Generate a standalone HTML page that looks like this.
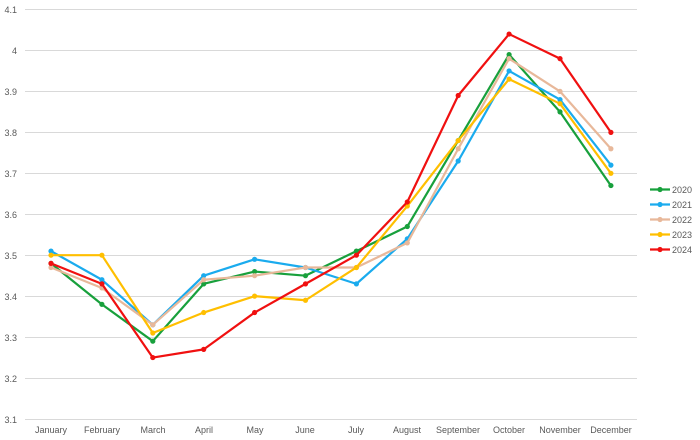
<!DOCTYPE html>
<html><head><meta charset="utf-8"><style>
body{margin:0;background:#fff;}
svg{display:block;font-family:"Liberation Sans",sans-serif;}
</style></head><body>
<svg id="c" width="700" height="440" xmlns="http://www.w3.org/2000/svg">
<g stroke="#d9d9d9" stroke-width="1">
<line x1="25" x2="637" y1="9.5" y2="9.5"/><line x1="25" x2="637" y1="50.5" y2="50.5"/>
<line x1="25" x2="637" y1="91.5" y2="91.5"/><line x1="25" x2="637" y1="132.5" y2="132.5"/>
<line x1="25" x2="637" y1="173.5" y2="173.5"/><line x1="25" x2="637" y1="214.5" y2="214.5"/>
<line x1="25" x2="637" y1="255.5" y2="255.5"/><line x1="25" x2="637" y1="296.5" y2="296.5"/>
<line x1="25" x2="637" y1="337.5" y2="337.5"/><line x1="25" x2="637" y1="378.5" y2="378.5"/>
<line x1="25" x2="637" y1="419.5" y2="419.5"/>
</g>
<g font-size="9" fill="#595959" text-anchor="end">
<text x="17" y="13">4.1</text><text x="17" y="54">4</text><text x="17" y="95">3.9</text>
<text x="17" y="136">3.8</text><text x="17" y="177">3.7</text><text x="17" y="218">3.6</text>
<text x="17" y="259">3.5</text><text x="17" y="300">3.4</text><text x="17" y="341">3.3</text>
<text x="17" y="382">3.2</text><text x="17" y="423">3.1</text>
</g>
<g font-size="9" fill="#595959" text-anchor="middle">
<text x="51" y="433">January</text><text x="102" y="433">February</text><text x="153" y="433">March</text>
<text x="204" y="433">April</text><text x="255" y="433">May</text><text x="305" y="433">June</text>
<text x="356" y="433">July</text><text x="407" y="433">August</text><text x="458" y="433">September</text>
<text x="509" y="433">October</text><text x="560" y="433">November</text><text x="611" y="433">December</text>
</g>
<g font-size="9" fill="#595959">
<text x="672" y="193">2020</text><text x="672" y="208">2021</text><text x="672" y="223">2022</text>
<text x="672" y="238">2023</text><text x="672" y="253">2024</text>
</g>
<g id="series"></g>
</svg>
<script>
var data=[
["#18a03c",[3.48,3.38,3.29,3.43,3.46,3.45,3.51,3.57,3.78,3.99,3.85,3.67]],
["#1aabee",[3.51,3.44,3.33,3.45,3.49,3.47,3.43,3.54,3.73,3.95,3.88,3.72]],
["#e8b89a",[3.47,3.42,3.33,3.44,3.45,3.47,3.47,3.53,3.76,3.98,3.90,3.76]],
["#ffbf00",[3.50,3.50,3.31,3.36,3.40,3.39,3.47,3.62,3.78,3.93,3.87,3.70]],
["#f01010",[3.48,3.43,3.25,3.27,3.36,3.43,3.50,3.63,3.89,4.04,3.98,3.80]]];
var g=document.getElementById("series"),ns="http://www.w3.org/2000/svg",s="";
data.forEach(function(d,k){
 var pts=d[1].map(function(v,i){return [51+i*50.9,9.5+(4.1-v)*409.5];});
 s+='<polyline fill="none" stroke="'+d[0]+'" stroke-width="2.2" stroke-linejoin="round" points="'+pts.map(function(p){return p.join(",");}).join(" ")+'"/>';
 pts.forEach(function(p){s+='<circle cx="'+p[0]+'" cy="'+p[1]+'" r="2.6" fill="'+d[0]+'"/>';});
 var ly=189.5+k*15;
 s+='<line x1="650" x2="670" y1="'+ly+'" y2="'+ly+'" stroke="'+d[0]+'" stroke-width="2.2"/><circle cx="660" cy="'+ly+'" r="2.6" fill="'+d[0]+'"/>';
});
g.innerHTML=s;
</script>
</body></html>
